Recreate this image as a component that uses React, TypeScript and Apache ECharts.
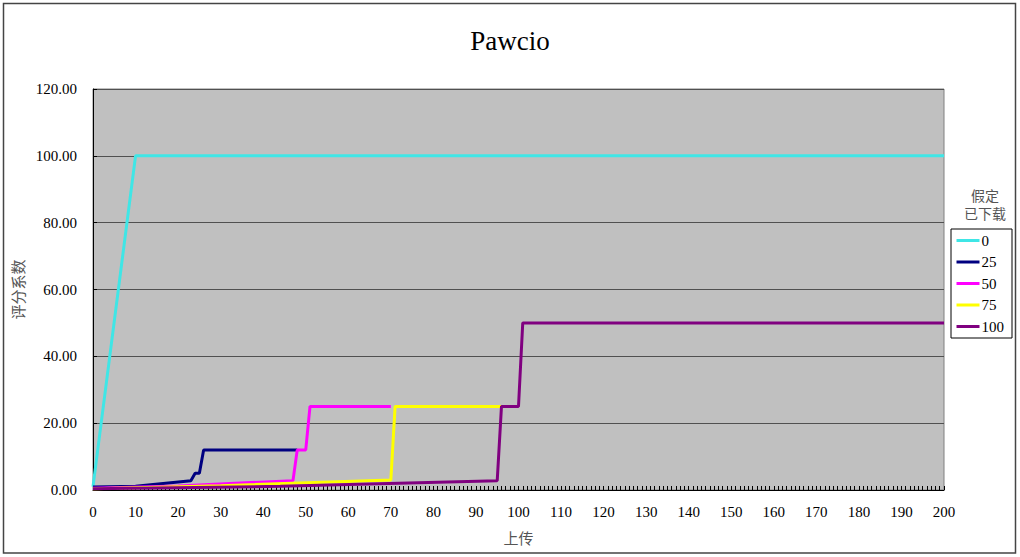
import React, { useEffect, useRef } from "react";
import * as echarts from "echarts";

const seriesNames = ["0", "25", "50", "75", "100"];
const seriesColors = ["#3fe6e6", "#000080", "#ff00ff", "#ffff00", "#800080"];

const s0: [number, number][] = [[0, 1], [10, 100], [200, 100]];
const s25: [number, number][] = [[0, 0.9], [10, 1.1], [23, 2.8], [24, 5], [25, 5], [26, 12], [48, 12]];
const s50: [number, number][] = [[0, 0.5], [20, 1.2], [47, 2.8], [48, 12], [50, 12], [51, 25], [70, 25]];
const s75: [number, number][] = [[0, 0.4], [30, 1.3], [70, 3], [71, 25], [96, 25]];
const s100: [number, number][] = [[0, 0.4], [44, 1.1], [95, 2.8], [96, 25], [100, 25], [101, 50], [200, 50]];
const allSeries = [s0, s25, s50, s75, s100];

const xTicks = { min: 0, max: 200, interval: 10 };
const yTicks = { min: 0, max: 120, interval: 20 };

const titleText = "Pawcio";
const xName = "上传";
const yName = "评分系数";
const legendTitle = ["假定", "已下载"];

const SERIF = "'Liberation Serif', 'Times New Roman', serif";
const CJK = "'Noto Sans CJK SC', sans-serif";

export default function App() {
  const ref = useRef<HTMLDivElement>(null);
  useEffect(() => {
    if (!ref.current) return;
    const chart = echarts.init(ref.current, undefined, { renderer: "svg" });
    chart.setOption({
      animation: false,
      backgroundColor: "#ffffff",
      title: {
        text: titleText,
        left: "center",
        top: 22,
        textStyle: { fontFamily: SERIF, fontSize: 27, fontWeight: "normal", color: "#000" },
      },
      grid: {
        left: 93,
        right: 76,
        top: 89,
        bottom: 67,
        show: true,
        backgroundColor: "#c0c0c0",
        borderColor: "#808080",
        borderWidth: 1,
      },
      xAxis: {
        type: "value",
        min: xTicks.min,
        max: xTicks.max,
        interval: xTicks.interval,
        name: xName,
        nameLocation: "middle",
        nameGap: 40,
        nameTextStyle: { fontFamily: CJK, fontSize: 15, color: "#555" },
        axisLine: { show: true, onZero: false, lineStyle: { color: "#000", width: 1 } },
        axisTick: { show: true, inside: true, length: 4, lineStyle: { color: "#000" } },
        minorTick: { show: true, splitNumber: 10, length: 4, lineStyle: { color: "#000" } },
        splitLine: { show: false },
        axisLabel: { fontFamily: SERIF, fontSize: 15, color: "#000", margin: 14 },
      },
      yAxis: {
        type: "value",
        min: yTicks.min,
        max: yTicks.max,
        interval: yTicks.interval,
        name: yName,
        nameLocation: "middle",
        nameGap: 66,
        nameTextStyle: { fontFamily: CJK, fontSize: 15, color: "#555" },
        axisLine: { show: true, lineStyle: { color: "#000", width: 1 } },
        axisTick: { show: true, inside: true, length: 4, lineStyle: { color: "#000" } },
        splitLine: { show: true, lineStyle: { color: "#505050", width: 1 } },
        axisLabel: {
          fontFamily: SERIF,
          fontSize: 15,
          color: "#000",
          margin: 16,
          formatter: (v: number) => v.toFixed(2),
        },
      },
      legend: {
        orient: "vertical",
        left: 951,
        top: 229,
        padding: [4, 8, 4, 4],
        itemGap: 6.5,
        itemWidth: 23,
        itemHeight: 14,
        backgroundColor: "#ffffff",
        borderColor: "#000",
        borderWidth: 1,
        lineStyle: { width: 3 },
        itemStyle: { opacity: 0 },
        textStyle: { fontFamily: SERIF, fontSize: 15, color: "#000", padding: [0, 0, 0, -3] },
        data: seriesNames,
      },
      graphic: [
        {
          type: "rect",
          shape: { x: 3.5, y: 3.5, width: 1012, height: 549.5 },
          style: { fill: "none", stroke: "#444", lineWidth: 1.5 },
          silent: true,
          z: 100,
        },
        ...legendTitle.map((t, i) => ({
          type: "text",
          x: 985,
          y: 195 + i * 18,
          style: {
            text: t,
            fontFamily: CJK,
            fontSize: 14,
            fill: "#555",
            textAlign: "center",
            textVerticalAlign: "middle",
          },
        })),
      ],
      series: allSeries.map((d, i) => ({
        name: seriesNames[i],
        type: "line",
        data: d,
        symbol: "none",
        showSymbol: false,
        color: seriesColors[i],
        lineStyle: { color: seriesColors[i], width: 3 },
        clip: true,
      })),
    });
    return () => chart.dispose();
  }, []);
  return (
    <div
      ref={ref}
      style={{ position: "fixed", left: 0, top: 0, width: 1020, height: 557 }}
    />
  );
}
